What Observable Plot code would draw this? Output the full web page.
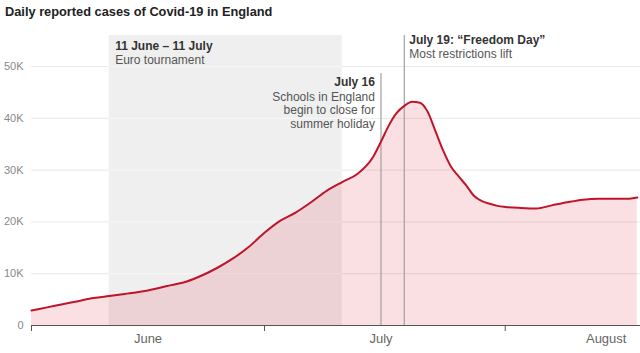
<!DOCTYPE html>
<html>
<head>
<meta charset="utf-8">
<script src="https://cdn.jsdelivr.net/npm/d3@7"></script>
<script src="https://cdn.jsdelivr.net/npm/@observablehq/plot@0.6"></script>
<style>
  html, body { margin: 0; padding: 0; background: #fff; }
  #title { font: bold 12.8px "Liberation Sans", Arial, sans-serif; color: #222; height: 25px; line-height: 16px; padding: 4px 0 0 5px; box-sizing: border-box; }
</style>
</head>
<body>
<div id="title">Daily reported cases of Covid-19 in England</div>
<div id="chart"></div>
<script>
// Daily reported cases (7-day average shape)
const dates = [
  "2021-06-01","2021-06-03","2021-06-05","2021-06-07","2021-06-09","2021-06-11",
  "2021-06-13","2021-06-15","2021-06-17","2021-06-19","2021-06-21","2021-06-23",
  "2021-06-25","2021-06-27","2021-06-29","2021-07-01","2021-07-03","2021-07-05",
  "2021-07-07","2021-07-09","2021-07-11","2021-07-13","2021-07-15","2021-07-16",
  "2021-07-17","2021-07-18","2021-07-19","2021-07-20","2021-07-21","2021-07-22",
  "2021-07-23","2021-07-24","2021-07-25","2021-07-26","2021-07-27","2021-07-28",
  "2021-07-29","2021-07-30","2021-07-31","2021-08-01","2021-08-03","2021-08-05",
  "2021-08-07","2021-08-09","2021-08-11","2021-08-13","2021-08-15","2021-08-17",
  "2021-08-18"
];
const cases = [
  2900, 3500, 4100, 4700, 5300, 5700,
  6100, 6500, 7100, 7800, 8500, 9700,
  11200, 13000, 15200, 17900, 20200, 21800,
  23800, 26000, 27700, 29300, 32600, 35500,
  38600, 41000, 42400, 43200, 43000, 41300,
  37600, 33800, 30700, 28800, 27000, 25000,
  24000, 23500, 23100, 22900, 22700, 22600,
  23200, 23800, 24300, 24500, 24500, 24500,
  24700
];

// Axis ticks
const yTicks = [0, 10000, 20000, 30000, 40000, 50000];
const yTickLabels = ["0", "10K", "20K", "30K", "40K", "50K"];
const monthStarts = ["2021-06-01", "2021-07-01", "2021-08-01"];
const monthLabelDates = ["2021-06-16", "2021-07-16", "2021-08-14"];
const monthLabels = ["June", "July", "August"];

// Annotations
const euroStart = "2021-06-11";
const euroEnd = "2021-07-11";
const euroTitle = "11 June – 11 July";
const euroText = "Euro tournament";
const schoolsDate = "2021-07-16";
const schoolsTitle = "July 16";
const schoolsText = "Schools in England\nbegin to close for\nsummer holiday";
const freedomDate = "2021-07-19";
const freedomTitle = "July 19: “Freedom Day”";
const freedomText = "Most restrictions lift";

const data = dates.map((d, i) => ({date: new Date(d), value: cases[i]}));
const yLabelMap = new Map(yTicks.map((t, i) => [t, yTickLabels[i]]));
const monthLabelMap = new Map(monthLabelDates.map((d, i) => [+new Date(d), monthLabels[i]]));
const euro = [{x1: new Date(euroStart), x2: new Date(euroEnd)}];
const gridTicks = yTicks.filter(t => t > 0);

const font = "'Liberation Sans', Arial, sans-serif";

const chart = Plot.plot({
  width: 640,
  height: 328,
  marginTop: 10,
  marginBottom: 28,
  marginLeft: 31,
  marginRight: 0,
  style: {fontFamily: font, background: "#fff", overflow: "visible"},
  x: {type: "utc", domain: [new Date("2021-06-01"), new Date("2021-08-18T10:00")]},
  y: {domain: [0, 56000]},
  marks: [
    Plot.gridY(gridTicks, {stroke: "#e9e9e9", strokeOpacity: 1}),
    Plot.rect(euro, {x1: "x1", x2: "x2", fill: "#efefef"}),
    Plot.ruleY(gridTicks, {x1: () => euro[0].x1, x2: () => euro[0].x2, stroke: "#f7f7f7"}),
    Plot.areaY(data, {x: "date", y: "value", fill: "#d6001c", fillOpacity: 0.12, curve: "monotone-x"}),
    Plot.ruleX([new Date(schoolsDate)], {stroke: "#a0a0a0", strokeWidth: 1.2, insetTop: 38}),
    Plot.ruleX([new Date(freedomDate)], {stroke: "#a0a0a0", strokeWidth: 1.2}),
    Plot.lineY(data, {x: "date", y: "value", stroke: "#c0142a", strokeWidth: 2, curve: "monotone-x"}),
    Plot.ruleY([0], {stroke: "#555", strokeWidth: 1}),
    Plot.axisY({ticks: yTicks, tickSize: 0, tickPadding: 8, tickFormat: d => yLabelMap.get(d), fontSize: 11, fill: "#888", label: null}),
    Plot.axisX({ticks: monthStarts.map(d => new Date(d)), tickSize: 6, stroke: "#555", tickFormat: () => "", label: null}),
    Plot.axisX({ticks: monthLabelDates.map(d => new Date(d)), tickSize: 0, tickPadding: 8, tickFormat: d => monthLabelMap.get(+d), fontSize: 13, fill: "#666", label: null}),
    // Euro annotation
    Plot.text([euroTitle], {x: () => euro[0].x1, frameAnchor: "top", textAnchor: "start", lineAnchor: "top", dx: 6, dy: 6, fontSize: 12, fontWeight: "bold", fill: "#333", text: d => d}),
    Plot.text([euroText], {x: () => euro[0].x1, frameAnchor: "top", textAnchor: "start", lineAnchor: "top", dx: 6, dy: 19.5, fontSize: 12, fill: "#555", text: d => d}),
    // Freedom Day annotation
    Plot.text([freedomTitle], {x: () => new Date(freedomDate), frameAnchor: "top", textAnchor: "start", lineAnchor: "top", dx: 5, dy: 0, fontSize: 12, fontWeight: "bold", fill: "#333", text: d => d}),
    Plot.text([freedomText], {x: () => new Date(freedomDate), frameAnchor: "top", textAnchor: "start", lineAnchor: "top", dx: 5, dy: 13.5, fontSize: 12, fill: "#555", text: d => d}),
    // Schools annotation
    Plot.text([schoolsTitle], {x: () => new Date(schoolsDate), frameAnchor: "top", textAnchor: "end", lineAnchor: "top", dx: -6, dy: 42, fontSize: 12, fontWeight: "bold", fill: "#333", text: d => d}),
    Plot.text([schoolsText], {x: () => new Date(schoolsDate), frameAnchor: "top", textAnchor: "end", lineAnchor: "top", dx: -6, dy: 55.5, fontSize: 12, lineHeight: 1.13, fill: "#555", text: d => d})
  ]
});
document.getElementById("chart").appendChild(chart);
</script>
</body>
</html>
